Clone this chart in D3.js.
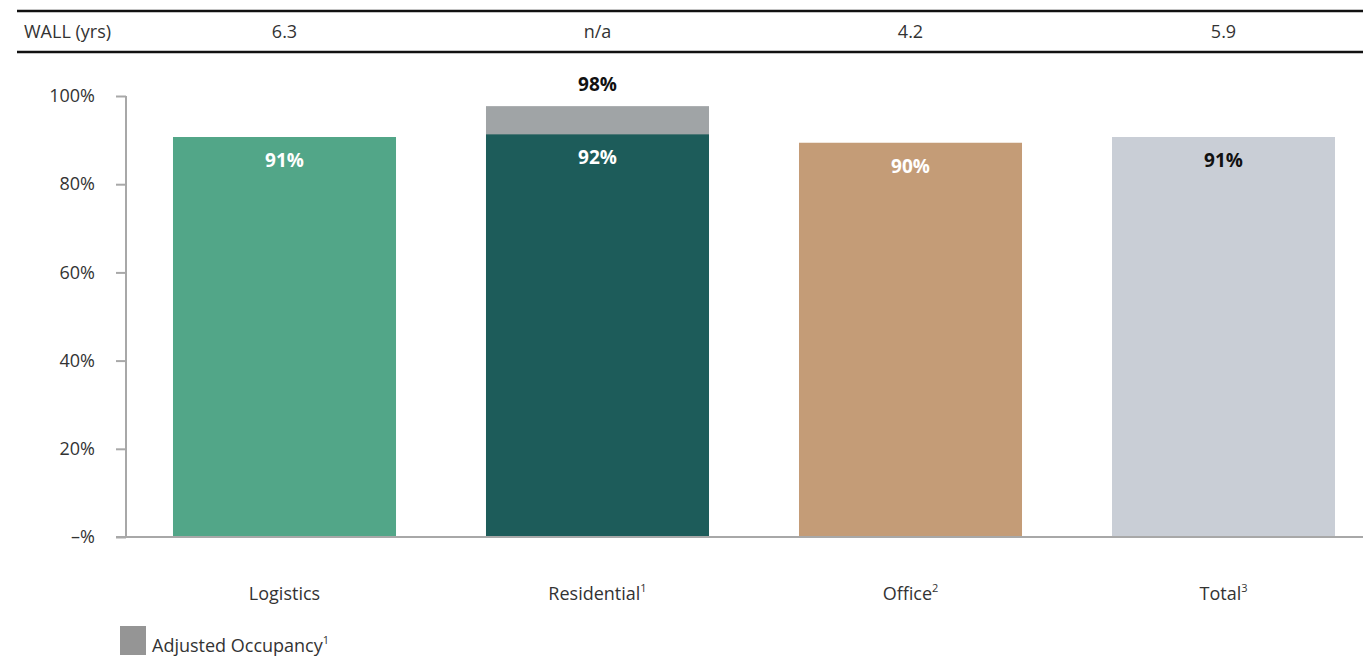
<!DOCTYPE html>
<html><head><meta charset="utf-8">
<script src="https://cdn.jsdelivr.net/npm/d3@7"></script>
<style>body{margin:0;background:#fff;} text{font-family:"Open Sans",sans-serif;}</style>
</head><body><svg id="c" width="1363" height="659"></svg>
<script>
const categories = ["Logistics","Residential","Office","Total"];
const superscripts = ["","1","2","3"];
const wall = ["6.3","n/a","4.2","5.9"];
const occupancy = [90.7, 91.3, 89.4, 90.7];
const occupancyLabels = ["91%","92%","90%","91%"];
const adjusted = [null, 97.7, null, null];
const adjustedLabels = [null, "98%", null, null];
const yTicks = [0,20,40,60,80,100];
const yTickLabels = ["–%","20%","40%","60%","80%","100%"];
const colors = ["#52a688","#1d5c5a","#c49c77","#c9ced6"];
const labelColors = ["#fff","#fff","#fff","#111"];
const adjColor = "#a0a4a6";

const svg = d3.select("#c");
const x = d3.scaleBand().domain(categories).range([128,1380]).paddingInner(0.2875).paddingOuter(0.14375);
const y = d3.scaleLinear().domain([0,100]).range([537,96]);

// table lines
svg.append("line").attr("x1",17).attr("x2",1363).attr("y1",11).attr("y2",11).attr("stroke","#111").attr("stroke-width",2.5);
svg.append("line").attr("x1",17).attr("x2",1363).attr("y1",52).attr("y2",52).attr("stroke","#111").attr("stroke-width",2.5);
svg.append("text").attr("x",24).attr("y",38).attr("font-size",18).attr("fill","#333").text("WALL (yrs)");
svg.selectAll(".wall").data(categories).enter().append("text")
  .attr("x",d=>x(d)+x.bandwidth()/2).attr("y",38).attr("text-anchor","middle")
  .attr("font-size",18).attr("fill","#333").text((d,i)=>wall[i]);

// y axis
const ya = svg.append("g").attr("transform","translate(126,0)")
  .call(d3.axisLeft(y).tickValues(yTicks).tickFormat((d,i)=>yTickLabels[i]).tickSize(10).tickPadding(21));
ya.select(".domain").attr("stroke","#a8a8a8").attr("stroke-width",2).attr("d","M0,96V537");
ya.selectAll(".tick line").attr("stroke","#a8a8a8").attr("stroke-width",2);
ya.selectAll(".tick text").attr("font-size",18).attr("fill","#333").attr("font-family","Open Sans");

// adjusted bars
svg.selectAll(".adj").data(categories.filter((d,i)=>adjusted[i]!=null)).enter().append("rect")
  .attr("x",d=>x(d)).attr("width",x.bandwidth())
  .attr("y",d=>y(adjusted[categories.indexOf(d)]))
  .attr("height",d=>y(0)-y(adjusted[categories.indexOf(d)])).attr("fill",adjColor);
// bars
svg.selectAll(".bar").data(categories).enter().append("rect")
  .attr("x",d=>x(d)).attr("width",x.bandwidth())
  .attr("y",(d,i)=>y(occupancy[i])).attr("height",(d,i)=>y(0)-y(occupancy[i]))
  .attr("fill",(d,i)=>colors[i]);

// x axis baseline
svg.append("line").attr("x1",116).attr("x2",1363).attr("y1",y(0)).attr("y2",y(0)).attr("stroke","#a8a8a8").attr("stroke-width",2);

// value labels
svg.selectAll(".vl").data(categories).enter().append("text")
  .attr("x",d=>x(d)+x.bandwidth()/2).attr("y",(d,i)=>y(occupancy[i])+30)
  .attr("text-anchor","middle").attr("font-size",19).attr("font-weight",700)
  .attr("fill",(d,i)=>labelColors[i]).text((d,i)=>occupancyLabels[i]);
svg.selectAll(".al").data(categories.filter((d,i)=>adjusted[i]!=null)).enter().append("text")
  .attr("x",d=>x(d)+x.bandwidth()/2).attr("y",d=>y(adjusted[categories.indexOf(d)])-15)
  .attr("text-anchor","middle").attr("font-size",19).attr("font-weight",700)
  .attr("fill","#111").text(d=>adjustedLabels[categories.indexOf(d)]);

// category labels
const cl = svg.selectAll(".cl").data(categories).enter().append("text")
  .attr("x",d=>x(d)+x.bandwidth()/2).attr("y",600).attr("text-anchor","middle")
  .attr("font-size",18).attr("fill","#333");
cl.append("tspan").text(d=>d);
cl.append("tspan").attr("font-size",11).attr("dy",-8).text((d,i)=>superscripts[i]);

// legend
svg.append("rect").attr("x",120).attr("y",626).attr("width",26).attr("height",29).attr("fill","#959595");
const lg = svg.append("text").attr("x",152).attr("y",652).attr("font-size",18).attr("fill","#333");
lg.append("tspan").text("Adjusted Occupancy");
lg.append("tspan").attr("font-size",11).attr("dy",-8).text("1");
</script></body></html>
